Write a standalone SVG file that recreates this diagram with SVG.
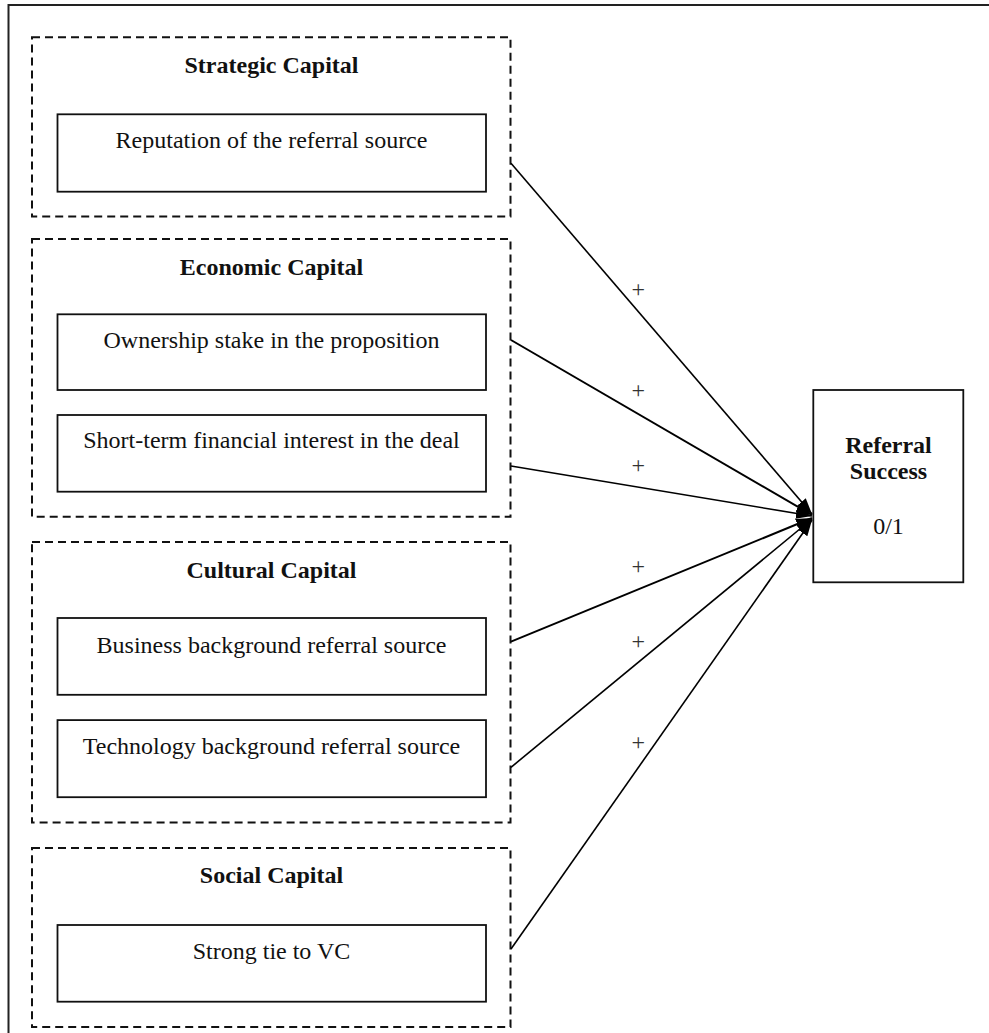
<svg xmlns="http://www.w3.org/2000/svg" width="989" height="1033" viewBox="0 0 989 1033">
<defs>
<marker id="ah" markerUnits="userSpaceOnUse" markerWidth="18" markerHeight="14" refX="16" refY="6" orient="auto"><path d="M0,0.5 L16,6 L0,11.5 z" fill="#000"/></marker>
<style>
.frame{fill:none;stroke:#222;stroke-width:2}
.grp{fill:none;stroke:#111;stroke-width:2;stroke-dasharray:8 5}
.box{fill:#fff;stroke:#111;stroke-width:1.8}
.title{font-family:"Liberation Serif","Times New Roman",serif;font-size:24px;font-weight:bold;text-anchor:middle;fill:#111}
.lbl{font-family:"Liberation Serif","Times New Roman",serif;font-size:24px;text-anchor:middle;fill:#111}
.plus{font-family:"Liberation Serif","Times New Roman",serif;font-size:24px;text-anchor:middle;fill:#333}
.conn{stroke:#000;stroke-width:1.6;fill:none;marker-end:url(#ah)}
</style>
</defs>
<rect width="989" height="1033" fill="#fff"/>
<rect class="frame" x="8.5" y="5" width="1100" height="1100"/>

<g id="strategic">
<rect class="grp" x="32" y="37.2" width="478.5" height="179.2"/>
<text class="title" x="271.5" y="72.7">Strategic Capital</text>
<g id="reputation"><rect class="box" x="57.5" y="114.3" width="428.5" height="77.4"/>
<text class="lbl" x="271.5" y="147.7">Reputation of the referral source</text></g>
</g>

<g id="economic">
<rect class="grp" x="32" y="239" width="478.5" height="277.7"/>
<text class="title" x="271.5" y="274.5">Economic Capital</text>
<g id="ownership"><rect class="box" x="57.5" y="314.3" width="428.5" height="75.7"/>
<text class="lbl" x="271.5" y="347.7">Ownership stake in the proposition</text></g>
<g id="shortterm"><rect class="box" x="57.5" y="415" width="428.5" height="76.7"/>
<text class="lbl" x="271.5" y="448.4">Short-term financial interest in the deal</text></g>
</g>

<g id="cultural">
<rect class="grp" x="32" y="542" width="478.5" height="280.6"/>
<text class="title" x="271.5" y="577.5">Cultural Capital</text>
<g id="business"><rect class="box" x="57.5" y="618" width="428.5" height="76.8"/>
<text class="lbl" x="271.5" y="652.5">Business background referral source</text></g>
<g id="technology"><rect class="box" x="57.5" y="720.1" width="428.5" height="77.1"/>
<text class="lbl" x="271.5" y="754">Technology background referral source</text></g>
</g>

<g id="social">
<rect class="grp" x="32" y="847.9" width="478.5" height="179.2"/>
<text class="title" x="271.5" y="882.7">Social Capital</text>
<g id="strongtie"><rect class="box" x="57.5" y="925" width="428.5" height="76.7"/>
<text class="lbl" x="271.5" y="958.5">Strong tie to VC</text></g>
</g>

<g id="success">
<rect class="box" x="813.3" y="390" width="150" height="192.3"/>
<text class="title" x="888.5" y="452.7">Referral</text>
<text class="title" x="888.5" y="479">Success</text>
<text class="lbl" x="888.5" y="534">0/1</text>
</g>

<g id="connectors">
<line class="conn" x1="511" y1="163.3" x2="812" y2="514"/>
<line class="conn" x1="511" y1="340" x2="812" y2="515" style="stroke-width:2"/>
<line class="conn" x1="511" y1="466" x2="812" y2="516"/>
<line class="conn" x1="511" y1="641.7" x2="812" y2="518" style="stroke-width:2"/>
<line class="conn" x1="511" y1="767.3" x2="812" y2="519"/>
<line class="conn" x1="511" y1="949" x2="812" y2="520"/>
<text class="plus" x="638.3" y="297">+</text>
<text class="plus" x="638.3" y="397.7">+</text>
<text class="plus" x="638.3" y="472.7">+</text>
<text class="plus" x="638.3" y="574.3">+</text>
<text class="plus" x="638.3" y="649.3">+</text>
<text class="plus" x="638.3" y="750">+</text>
</g>
</svg>
